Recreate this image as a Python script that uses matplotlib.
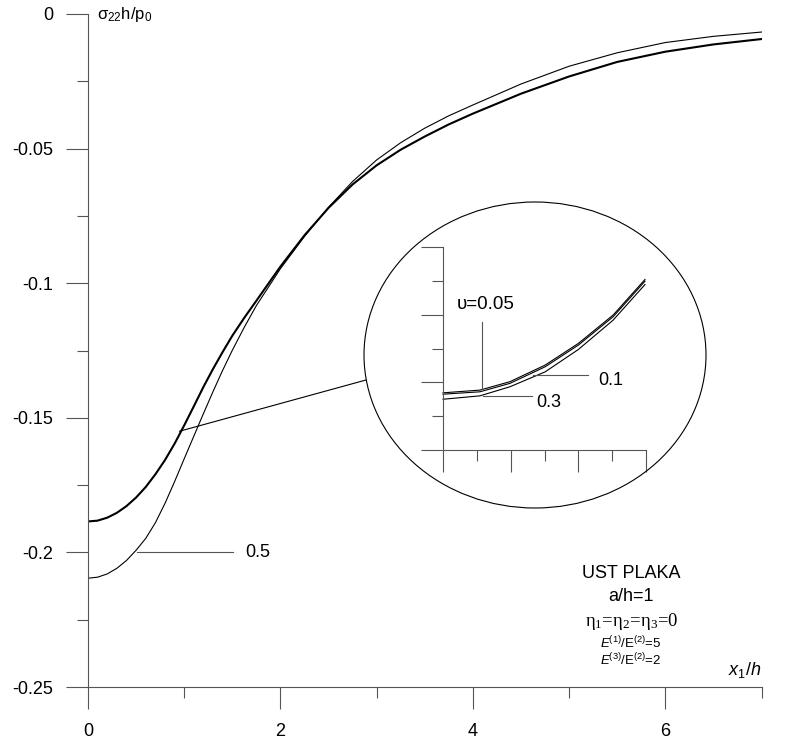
import matplotlib
matplotlib.use("Agg")
import matplotlib.pyplot as plt
from matplotlib.patches import Ellipse, ConnectionPatch
from matplotlib.ticker import MultipleLocator

plt.rcParams.update({
    "font.family": ["Liberation Sans", "DejaVu Sans"],
    "font.size": 13,
    "mathtext.fontset": "custom",
    "mathtext.rm": "Liberation Sans",
    "mathtext.it": "Liberation Sans:italic",
    "mathtext.default": "regular",
})

# Main curves: sigma_22 h / p0 against x1/h
X1_H = [0, 0.1, 0.2, 0.3, 0.4, 0.5, 0.6, 0.7, 0.8, 0.9, 1.0, 1.1, 1.2, 1.3,
        1.4, 1.5, 1.625, 1.75, 2.0, 2.25, 2.5, 2.75, 3.0, 3.25, 3.5, 3.75,
        4.0, 4.5, 5.0, 5.5, 6.0, 6.5, 7.0]
# nu = 0.05, 0.1 and 0.3 lie on top of each other at this scale
SIGMA_NU_LOW = [-0.1885, -0.1882, -0.1871, -0.1853, -0.1828, -0.1796, -0.1757,
                -0.1710, -0.1657, -0.1596, -0.1528, -0.1457, -0.1385, -0.1318,
                -0.1255, -0.1195, -0.1128, -0.1065, -0.0938, -0.0822, -0.0720,
                -0.0633, -0.0562, -0.0504, -0.0455, -0.0410, -0.0370, -0.0296,
                -0.0232, -0.0178, -0.0140, -0.0113, -0.0093]
SIGMA_NU_05 = [-0.2096, -0.2092, -0.2080, -0.2059, -0.2030, -0.1992, -0.1948,
               -0.1890, -0.1818, -0.1737, -0.1652, -0.1568, -0.1484, -0.1402,
               -0.1323, -0.1249, -0.1163, -0.1083, -0.0946, -0.0826, -0.0718,
               -0.0622, -0.0542, -0.0478, -0.0424, -0.0378, -0.0338, -0.0260,
               -0.0194, -0.0144, -0.0106, -0.0083, -0.0067]

# Magnified detail (inset units)
INSET_X = [0, 1.09, 1.98, 3.02, 4.0, 5.03, 5.97]
INSET_NU_005 = [1.69, 1.77, 2.02, 2.51, 3.15, 3.99, 5.04]
INSET_NU_01 = [1.65, 1.72, 1.97, 2.46, 3.10, 3.94, 4.99]
INSET_NU_03 = [1.50, 1.60, 1.87, 2.31, 2.97, 3.84, 4.89]

W, H = 792, 749
AX_COLOR = "#555555"
LONG, SHORT = 15.8, 7.9  # tick lengths in points


def style_axes(ax, labels=True):
    for s in ["top", "right"]:
        ax.spines[s].set_visible(False)
    for s in ["left", "bottom"]:
        ax.spines[s].set_color(AX_COLOR)
        ax.spines[s].set_linewidth(0.8)
    ax.tick_params(which="major", length=LONG, width=0.8, color=AX_COLOR,
                   labelsize=13)
    ax.tick_params(which="minor", length=SHORT, width=0.8, color=AX_COLOR)
    ax.tick_params(axis="y", which="major", pad=9)
    ax.tick_params(axis="x", which="major", pad=10)
    if not labels:
        ax.tick_params(labelleft=False, labelbottom=False)


fig = plt.figure(figsize=(W / 100, H / 100), dpi=100)

# main plot
ax = fig.add_axes([88 / W, (H - 687) / H, 673.6 / W, 673 / H])
ax.plot(X1_H, SIGMA_NU_LOW, color="black", linewidth=1.5)
ax.plot(X1_H, SIGMA_NU_05, color="black", linewidth=0.8)
ax.set_xlim(0, 7)
ax.set_ylim(-0.25, 0)
ax.xaxis.set_minor_locator(MultipleLocator(1))
ax.yaxis.set_minor_locator(MultipleLocator(0.025))
ax.set_yticks([0, -0.05, -0.1, -0.15, -0.2, -0.25])
ax.set_yticklabels(["0", "-0.05", "-0.1", "-0.15", "-0.2", "-0.25"])
ax.set_xticks([0, 2, 4, 6])
ax.set_xticklabels(["0", "2", "4", "6"])
style_axes(ax)

ax.text(0.094, 0, r"σ$_{22}$h/p$_0$", ha="left", va="center", fontsize=12)
ax.text(7.0, -0.2437, r"$\mathit{x_1/h}$", ha="right", va="center", fontsize=13)

# 0.5 label with leader
ax.plot([0.51, 1.51], [-0.2, -0.2], color=AX_COLOR, linewidth=0.8)
ax.text(1.63, -0.2, "0.5", ha="left", va="center", fontsize=13)

# parameters block
cx = 5.645
ax.text(cx, -0.2077, "UST PLAKA", ha="center", va="center", fontsize=13)
ax.text(cx, -0.2162, "a/h=1", ha="center", va="center", fontsize=13)
ax.text(cx, -0.2255, r"η$_1$=η$_2$=η$_3$=0", ha="center", va="center",
        fontsize=13.5, family="Liberation Serif")
ax.text(cx, -0.2335, r"$\mathit{E}$$^{(1)}$/E$^{(2)}$=5", ha="center",
        va="center", fontsize=9.5)
ax.text(cx, -0.2398, r"$\mathit{E}$$^{(3)}$/E$^{(2)}$=2", ha="center",
        va="center", fontsize=9.5)

# magnifier ellipse
ell = Ellipse((535 / W, 1 - 355 / H), 342 / W, 306 / H, transform=fig.transFigure,
              facecolor="none", edgecolor="black", linewidth=0.8)
fig.patches.append(ell)
con = ConnectionPatch(xyA=(0.95, -0.155), coordsA=ax.transData,
                      xyB=(366 / W, 1 - 380 / H), coordsB=fig.transFigure,
                      color="black", linewidth=0.8)
fig.add_artist(con)

# inset
axi = fig.add_axes([443 / W, (H - 450) / H, 203 / W, 203 / H])
axi.patch.set_alpha(0)
for y in [INSET_NU_005, INSET_NU_01, INSET_NU_03]:
    axi.plot(INSET_X, y, color="black", linewidth=0.8, clip_on=False)
axi.set_xlim(0, 6)
axi.set_ylim(0, 6)
axi.set_xticks([0, 2, 4, 6])
axi.set_xticks([1, 3, 5], minor=True)
axi.set_yticks([0, 2, 4, 6])
axi.set_yticks([1, 3, 5], minor=True)
style_axes(axi, labels=False)

axi.text(0.41, 4.29, "υ=0.05", ha="left", va="center", fontsize=13.5)
axi.plot([1.14, 1.14], [3.79, 1.80], color=AX_COLOR, linewidth=0.8)
axi.plot([2.67, 4.28], [2.22, 2.22], color=AX_COLOR, linewidth=0.8)
axi.text(4.58, 2.05, "0.1", ha="left", va="center", fontsize=13)
axi.plot([1.19, 2.62], [1.61, 1.61], color=AX_COLOR, linewidth=0.8)
axi.text(2.75, 1.39, "0.3", ha="left", va="center", fontsize=13)

fig.savefig("out.png", dpi=100)
